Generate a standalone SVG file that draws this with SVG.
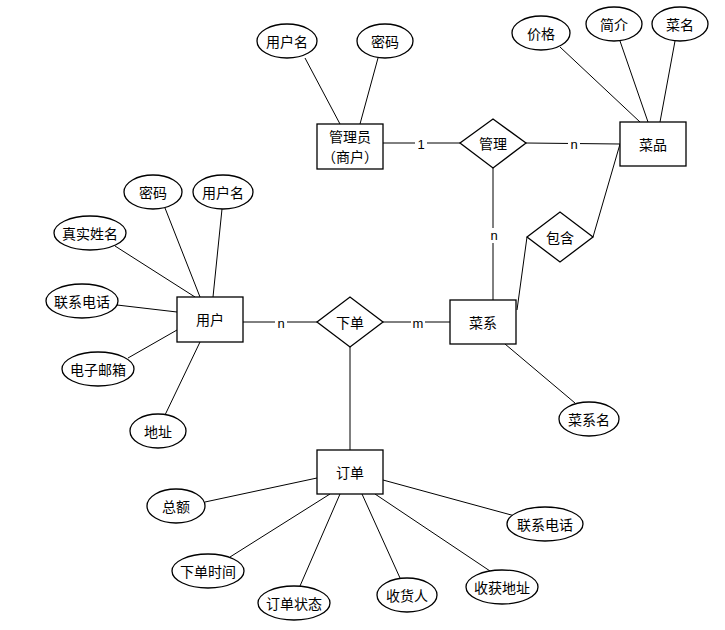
<svg xmlns="http://www.w3.org/2000/svg" width="725" height="630" viewBox="0 0 725 630">
<style>
.s{fill:#fff;stroke:#000;stroke-width:1.3}
line{stroke:#000;stroke-width:1}
text{font-family:"Noto Sans CJK SC","Liberation Sans",sans-serif;font-size:14px;text-anchor:middle;dominant-baseline:central;fill:#000}
.l{font-family:"Liberation Sans",sans-serif;font-size:13px}
</style>
<rect width="725" height="630" fill="#fff"/>
<g id="connectors">
<line x1="383" y1="143" x2="460" y2="143"/><line x1="526" y1="143" x2="620" y2="144"/>
<line x1="493" y1="168" x2="493" y2="300"/><line x1="517" y1="310" x2="527" y2="237"/>
<line x1="593" y1="237" x2="620" y2="144"/><line x1="243" y1="322" x2="317" y2="322"/>
<line x1="383" y1="322" x2="450" y2="322"/><line x1="350" y1="347" x2="350" y2="450"/>
<line x1="305" y1="58" x2="340" y2="124"/><line x1="378" y1="58" x2="360" y2="124"/>
<line x1="560" y1="47" x2="640" y2="122"/><line x1="620" y1="41" x2="648" y2="122"/>
<line x1="675" y1="41" x2="660" y2="122"/>
<line x1="165" y1="208" x2="200" y2="297"/><line x1="222" y1="209" x2="213" y2="297"/>
<line x1="115" y1="246" x2="195" y2="297"/><line x1="117" y1="305" x2="177" y2="312"/>
<line x1="128" y1="358" x2="177" y2="330"/><line x1="165" y1="415" x2="200" y2="342"/>
<line x1="575" y1="403" x2="505" y2="344"/>
<line x1="205" y1="502" x2="317" y2="478"/><line x1="230" y1="557" x2="330" y2="494"/>
<line x1="300" y1="586" x2="340" y2="494"/><line x1="400" y1="578" x2="362" y2="494"/>
<line x1="490" y1="571" x2="375" y2="494"/><line x1="515" y1="516" x2="383" y2="480"/>
<rect x="415" y="136" width="12" height="15" fill="#fff"/><text class="l" x="421" y="144">1</text>
<rect x="568" y="136" width="12" height="15" fill="#fff"/><text class="l" x="574" y="144">n</text>
<rect x="488" y="228" width="12" height="15" fill="#fff"/><text class="l" x="494" y="235">n</text>
<rect x="275" y="315" width="12" height="15" fill="#fff"/><text class="l" x="281" y="323" fill="#600">n</text>
<rect x="411" y="315" width="14" height="15" fill="#fff"/><text class="l" x="418" y="323" fill="#600">m</text>
</g>
<g id="admin"><rect class="s" x="317" y="124" width="66" height="45"/><text x="350" y="136">管理员</text><text x="350" y="156">（商户）</text></g>
<g id="manage"><polygon class="s" points="460,143 493,119 526,143 493,168"/><text x="493" y="143">管理</text></g>
<g id="dish"><rect class="s" x="620" y="122" width="66" height="44"/><text x="653" y="144">菜品</text></g>
<g id="contain"><polygon class="s" points="527,237 560,212 593,237 560,262"/><text x="560" y="237">包含</text></g>
<g id="cuisine"><rect class="s" x="450" y="300" width="66" height="44"/><text x="483" y="322">菜系</text></g>
<g id="order"><polygon class="s" points="317,322 350,297 383,322 350,347"/><text x="350" y="322">下单</text></g>
<g id="user"><rect class="s" x="177" y="297" width="66" height="45"/><text x="210" y="319">用户</text></g>
<g id="orders"><rect class="s" x="317" y="450" width="66" height="44"/><text x="350" y="472">订单</text></g>
<g id="attrs">
<ellipse class="s" cx="287" cy="41" rx="30" ry="17"/><text x="287" y="41">用户名</text>
<ellipse class="s" cx="385" cy="41" rx="28" ry="17"/><text x="385" y="41">密码</text>
<ellipse class="s" cx="541" cy="33" rx="29" ry="17"/><text x="541" y="33">价格</text>
<ellipse class="s" cx="614" cy="24" rx="28" ry="17"/><text x="614" y="24">简介</text>
<ellipse class="s" cx="680" cy="24" rx="28" ry="17"/><text x="680" y="24">菜名</text>
<ellipse class="s" cx="153" cy="192" rx="29" ry="17"/><text x="153" y="192">密码</text>
<ellipse class="s" cx="223" cy="192" rx="30" ry="17"/><text x="223" y="192">用户名</text>
<ellipse class="s" cx="90" cy="233" rx="36" ry="17"/><text x="90" y="233">真实姓名</text>
<ellipse class="s" cx="82" cy="301" rx="36" ry="17"/><text x="82" y="301">联系电话</text>
<ellipse class="s" cx="98" cy="369" rx="36" ry="17"/><text x="98" y="369">电子邮箱</text>
<ellipse class="s" cx="158" cy="431" rx="28" ry="17"/><text x="158" y="431">地址</text>
<ellipse class="s" cx="589" cy="419" rx="30" ry="17"/><text x="589" y="419">菜系名</text>
<ellipse class="s" cx="176" cy="506" rx="29" ry="17"/><text x="176" y="506">总额</text>
<ellipse class="s" cx="208" cy="571" rx="36" ry="17"/><text x="208" y="571">下单时间</text>
<ellipse class="s" cx="294" cy="603" rx="36" ry="17"/><text x="294" y="603">订单状态</text>
<ellipse class="s" cx="407" cy="595" rx="30" ry="17"/><text x="407" y="595">收货人</text>
<ellipse class="s" cx="502" cy="587" rx="36" ry="17"/><text x="502" y="587">收获地址</text>
<ellipse class="s" cx="545" cy="524" rx="38" ry="17"/><text x="545" y="524">联系电话</text>
</g>
</svg>
